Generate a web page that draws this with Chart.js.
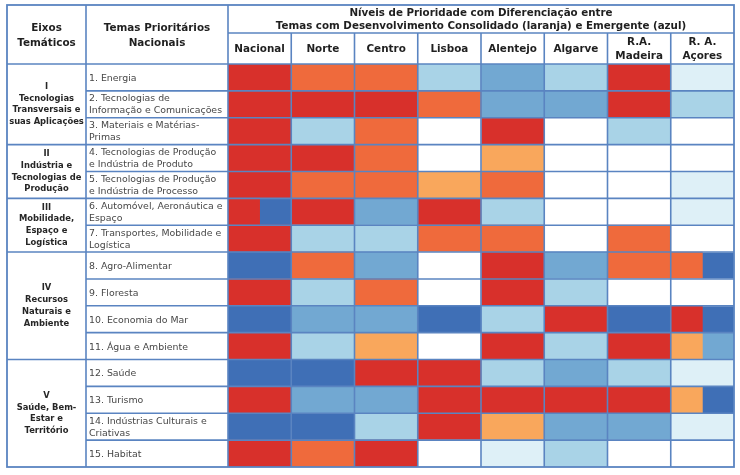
<!DOCTYPE html>
<html><head><meta charset="utf-8">
<script src="https://cdn.jsdelivr.net/npm/chart.js@4"></script>
<style>html,body{margin:0;padding:0;background:#fff;}canvas{display:block;}</style>
</head><body>
<canvas id="c" width="740" height="475"></canvas>
<script>
// ---- Data ----
const titleLines = ['Níveis de Prioridade com Diferenciação entre', 'Temas com Desenvolvimento Consolidado (laranja) e Emergente (azul)'];
const headerEixos = ['Eixos', 'Temáticos'];
const headerTemas = ['Temas Prioritários', 'Nacionais'];
const regions = [['Nacional'], ['Norte'], ['Centro'], ['Lisboa'], ['Alentejo'], ['Algarve'], ['R.A.', 'Madeira'], ['R. A.', 'Açores']];
const themes = [
  ['1. Energia'],
  ['2. Tecnologias de', 'Informação e Comunicações'],
  ['3. Materiais e Matérias-', 'Primas'],
  ['4. Tecnologias de Produção', 'e Indústria de Produto'],
  ['5. Tecnologias de Produção', 'e Indústria de Processo'],
  ['6. Automóvel, Aeronáutica e', 'Espaço'],
  ['7. Transportes, Mobilidade e', 'Logística'],
  ['8. Agro-Alimentar'],
  ['9. Floresta'],
  ['10. Economia do Mar'],
  ['11. Água e Ambiente'],
  ['12. Saúde'],
  ['13. Turismo'],
  ['14. Indústrias Culturais e', 'Criativas'],
  ['15. Habitat']
];
const axisGroups = [
  { first: 0, last: 2, lines: ['I', 'Tecnologias', 'Transversais e', 'suas Aplicações'] },
  { first: 3, last: 4, lines: ['II', 'Indústria e', 'Tecnologias de', 'Produção'] },
  { first: 5, last: 6, lines: ['III', 'Mobilidade,', 'Espaço e', 'Logística'] },
  { first: 7, last: 10, lines: ['IV', 'Recursos', 'Naturais e', 'Ambiente'] },
  { first: 11, last: 14, lines: ['V', 'Saúde, Bem-', 'Estar e', 'Território'] }
];
// Levels: 3 red, 2 orange, 1 light orange (consolidated); 0 none;
// -1 very light blue, -2 light blue, -3 medium blue, -4 dark blue (emergent)
const nacional = [3, 3, 3, 3, 3, 3, 3, -4, 3, -4, 3, -4, 3, -4, 3];
const norte    = [2, 3, -2, 3, 2, 3, -2, 2, -2, -3, -2, -4, -3, -4, 2];
const centro   = [2, 3, 2, 2, 2, -3, -2, -3, 2, -3, 1, 3, -3, -2, 3];
const lisboa   = [-2, 2, 0, 0, 1, 3, 2, 0, 0, -4, 0, 3, 3, 3, 0];
const alentejo = [-3, -3, 3, 1, 2, -2, 2, 3, 3, -2, 3, -2, 3, 1, -1];
const algarve  = [-2, -3, 0, 0, 0, 0, 0, -3, -2, 3, -2, -3, 3, -3, -2];
const madeira  = [3, 3, -2, 0, 0, 0, 2, 2, 0, -4, 3, -2, 3, -3, 0];
const acores   = [-1, -2, 0, 0, -1, -1, 0, 2, 0, 3, 1, -1, 1, -1, 0];
// second half of split cells (null = no split)
const nacionalSplit = [null, null, null, null, null, -4, null, null, null, null, null, null, null, null, null];
const acoresSplit   = [null, null, null, null, null, null, null, -4, null, -4, -3, null, -4, null, null];

const levelsByRegion = [nacional, norte, centro, lisboa, alentejo, algarve, madeira, acores];
const splitsByRegion = [nacionalSplit, null, null, null, null, null, null, acoresSplit];

const palette = { '3': '#d8302b', '2': '#ef6a3c', '1': '#f9a75c', '0': '#ffffff', '-1': '#def0f7', '-2': '#a9d3e7', '-3': '#72a8d2', '-4': '#3f6fb6' };
const col = v => palette[String(v)];

const datasets = [];
levelsByRegion.forEach((lv, c) => {
  const sp = splitsByRegion[c];
  datasets.push({
    data: lv.map((v, i) => (sp && sp[i] !== null) ? [c, c + 0.5] : [c, c + 1]),
    backgroundColor: lv.map(col),
    borderWidth: 0, grouped: false, barPercentage: 1, categoryPercentage: 1
  });
  if (sp) {
    datasets.push({
      data: sp.map(v => v === null ? null : [c + 0.5, c + 1]),
      backgroundColor: sp.map(v => v === null ? 'rgba(0,0,0,0)' : col(v)),
      borderWidth: 0, grouped: false, barPercentage: 1, categoryPercentage: 1
    });
  }
});

const LINE = '#5a84c1';
const FONT = '"DejaVu Sans", Verdana, sans-serif';

const tablePlugin = {
  id: 'tableFrame',
  afterDatasetsDraw(chart) {
    const ctx = chart.ctx, ca = chart.chartArea, x = chart.scales.x, y = chart.scales.y;
    const n = themes.length;
    const rowH = (ca.bottom - ca.top) / n;
    const rowTop = i => y.getPixelForValue(i) - rowH / 2;
    const frameL = 7, frameT = 5, colSplit = 86, titleSep = 33;
    ctx.save();
    ctx.strokeStyle = LINE;
    ctx.lineWidth = 1.6;
    const line = (x1, y1, x2, y2) => { ctx.beginPath(); ctx.moveTo(x1, y1); ctx.lineTo(x2, y2); ctx.stroke(); };
    // row separators
    const groupStarts = axisGroups.map(g => g.first);
    for (let i = 1; i < n; i++) {
      const yy = rowTop(i);
      line(groupStarts.includes(i) ? frameL : colSplit, yy, ca.right, yy);
    }
    // header lines
    line(frameL, ca.top, ca.right, ca.top);
    line(ca.left, titleSep, ca.right, titleSep);
    // vertical lines
    for (let c = 1; c < regions.length; c++) {
      const xx = x.getPixelForValue(c);
      line(xx, titleSep, xx, ca.bottom);
    }
    line(ca.left, frameT, ca.left, ca.bottom);
    line(colSplit, frameT, colSplit, ca.bottom);
    // outer frame
    ctx.lineWidth = 1.8;
    ctx.strokeRect(frameL, frameT, ca.right - frameL, ca.bottom - frameT);

    // ---- texts ----
    ctx.textAlign = 'center';
    ctx.textBaseline = 'middle';
    ctx.fillStyle = '#1f1f1f';
    const mid = (ca.left + ca.right) / 2;
    ctx.font = 'bold 10.3px ' + FONT;
    ctx.fillText(titleLines[0], mid, 13);
    ctx.fillText(titleLines[1], mid, 26.5);
    ctx.font = 'bold 10.4px ' + FONT;
    ctx.fillText(headerEixos[0], (frameL + colSplit) / 2, 28);
    ctx.fillText(headerEixos[1], (frameL + colSplit) / 2, 43);
    ctx.fillText(headerTemas[0], (colSplit + ca.left) / 2, 28);
    ctx.fillText(headerTemas[1], (colSplit + ca.left) / 2, 43);
    regions.forEach((r, c) => {
      const cx = x.getPixelForValue(c + 0.5);
      const cy = (titleSep + ca.top) / 2 + 1;
      if (r.length === 1) ctx.fillText(r[0], cx, cy);
      else { ctx.fillText(r[0], cx, cy - 7); ctx.fillText(r[1], cx, cy + 7); }
    });
    // axis groups
    ctx.font = 'bold 8.4px ' + FONT;
    ctx.fillStyle = '#262626';
    axisGroups.forEach(g => {
      const cy = (rowTop(g.first) + rowTop(g.last) + rowH) / 2;
      const lh = 11.8;
      g.lines.forEach((t, k) => ctx.fillText(t, (frameL + colSplit) / 2, cy + (k - (g.lines.length - 1) / 2) * lh));
    });
    // themes
    ctx.textAlign = 'left';
    ctx.font = '9.4px ' + FONT;
    ctx.fillStyle = '#474747';
    themes.forEach((t, i) => {
      const cy = y.getPixelForValue(i);
      if (t.length === 1) ctx.fillText(t[0], 89, cy + 1);
      else { ctx.fillText(t[0], 89, cy - 5.5); ctx.fillText(t[1], 89, cy + 6.5); }
    });
    ctx.restore();
  }
};

new Chart(document.getElementById('c'), {
  type: 'bar',
  data: { labels: themes.map(t => t.join(' ')), datasets },
  options: {
    indexAxis: 'y',
    responsive: false,
    animation: false,
    layout: { padding: { left: 228, right: 6, top: 64, bottom: 8 } },
    scales: {
      x: { type: 'linear', min: 0, max: regions.length, display: false },
      y: { type: 'category', display: false, offset: true }
    },
    plugins: { legend: { display: false }, tooltip: { enabled: false } }
  },
  plugins: [tablePlugin]
});
</script>
</body></html>
